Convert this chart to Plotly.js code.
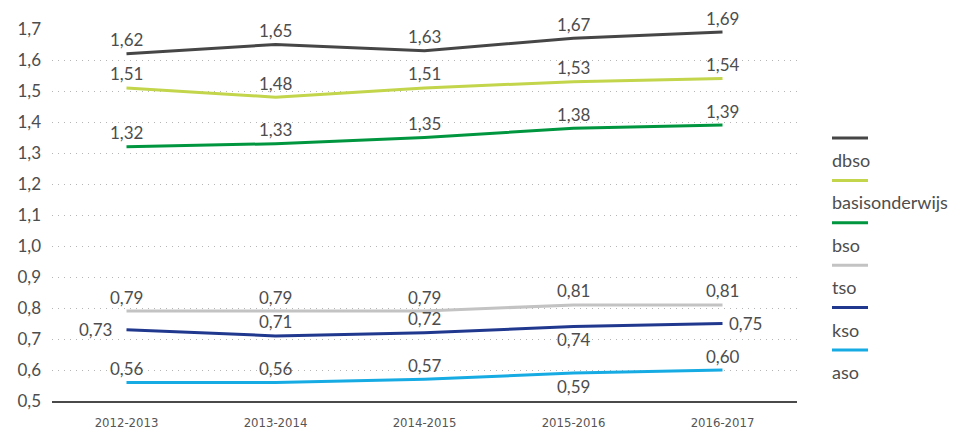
<!DOCTYPE html>
<html>
<head>
<meta charset="utf-8">
<script src="https://cdn.plot.ly/plotly-3.0.1.min.js"></script>
<style>html,body{margin:0;padding:0;background:#fff;}#chart{width:960px;height:437px;}</style>
</head>
<body>
<div id="chart"></div>
<script>
const years = ['2012-2013', '2013-2014', '2014-2015', '2015-2016', '2016-2017'];

const names = ['dbso', 'basisonderwijs', 'bso', 'tso', 'kso', 'aso'];
const dbso = [1.62, 1.65, 1.63, 1.67, 1.69];
const basisonderwijs = [1.51, 1.48, 1.51, 1.53, 1.54];
const bso = [1.32, 1.33, 1.35, 1.38, 1.39];
const tso = [0.79, 0.79, 0.79, 0.81, 0.81];
const kso = [0.73, 0.71, 0.72, 0.74, 0.75];
const aso = [0.56, 0.56, 0.57, 0.59, 0.60];
const seriesValues = [dbso, basisonderwijs, bso, tso, kso, aso];

const colors = ['#464646', '#c2d54b', '#00963f', '#c3c3c3', '#21388f', '#17abe3'];
// label placement per point: t = above, b = below, l = left, r = right
const labelPos = [
  ['t', 't', 't', 't', 't'],
  ['t', 't', 't', 't', 't'],
  ['t', 't', 't', 't', 't'],
  ['t', 't', 't', 't', 't'],
  ['l', 't', 't', 'b', 'r'],
  ['t', 't', 't', 'b', 't']
];

const FONT = 'Lato, "Open Sans", sans-serif';
const textColor = '#4d4d4d';

const traces = names.map((n, i) => ({
  type: 'scatter',
  mode: 'lines',
  name: n,
  x: years,
  y: seriesValues[i],
  line: {color: colors[i], width: 3},
  cliponaxis: false,
  hoverinfo: 'skip',
  showlegend: false
}));

const annotations = [];
names.forEach((n, i) => {
  seriesValues[i].forEach((v, j) => {
    const p = labelPos[i][j];
    const a = {
      xref: 'x', yref: 'y', x: years[j], y: v,
      text: v.toFixed(2).replace('.', ','),
      showarrow: false,
      font: {family: FONT, size: 17, color: textColor},
      xanchor: 'center', yanchor: 'middle'
    };
    if (p === 't') a.yshift = 14;
    if (p === 'b') a.yshift = -13;
    if (p === 'l') { a.xanchor = 'right'; a.xshift = -13; }
    if (p === 'r') { a.xanchor = 'left'; a.xshift = 4; }
    annotations.push(a);
  });
});

// custom legend: line symbol above label
const shapes = [];
const legTop = 138, legStep = 42.4;
names.forEach((n, i) => {
  const y = legTop + i * legStep;
  shapes.push({
    type: 'line', xref: 'paper', yref: 'paper',
    x0: (832 - 52) / 745, x1: (868 - 52) / 745,
    y0: 1 - (y - 29) / 372, y1: 1 - (y - 29) / 372,
    line: {color: colors[i], width: 3}
  });
  annotations.push({
    xref: 'paper', yref: 'paper',
    x: (830 - 52) / 745, y: 1 - (y + 22 - 29) / 372,
    xanchor: 'left', yanchor: 'middle',
    text: n, showarrow: false,
    font: {family: FONT, size: 18, color: textColor}
  });
});

const layout = {
  width: 960, height: 437,
  margin: {l: 52, r: 163, t: 29, b: 36},
  paper_bgcolor: '#fff', plot_bgcolor: '#fff',
  separators: ', ',
  showlegend: false,
  xaxis: {
    type: 'category',
    range: [-0.5, 4.5],
    showgrid: false,
    showline: true, linecolor: '#4a4a4a', linewidth: 2,
    ticks: '',
    tickfont: {family: '"Liberation Sans Narrow", "DejaVu Sans Condensed", sans-serif', size: 13, color: '#555555'},
    ticklabelstandoff: 8,
    fixedrange: true
  },
  yaxis: {
    range: [0.5, 1.7],
    dtick: 0.1, tick0: 0.5,
    tickformat: '.1f',
    showgrid: true, gridcolor: '#b5b5b5', gridwidth: 1, griddash: '1px,5px',
    zeroline: false, showline: false,
    ticks: '',
    tickfont: {family: FONT, size: 17, color: textColor},
    ticklabelstandoff: 10,
    fixedrange: true
  },
  shapes: shapes,
  annotations: annotations
};

Plotly.newPlot('chart', traces, layout, {displayModeBar: false, staticPlot: true});
</script>
</body>
</html>
